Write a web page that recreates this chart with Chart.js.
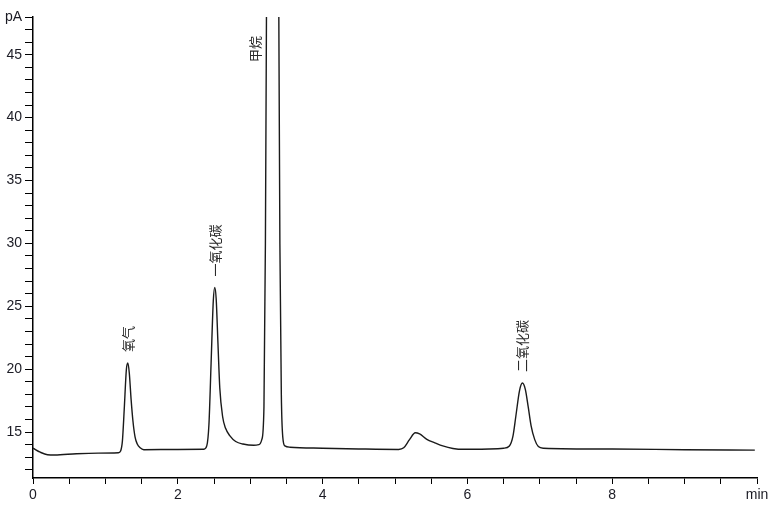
<!DOCTYPE html>
<html>
<head>
<meta charset="utf-8">
<script src="https://cdn.jsdelivr.net/npm/chart.js@4.4.1/dist/chart.umd.min.js"></script>
<style>
  html, body { margin: 0; padding: 0; background: #fff; }
  #wrap { width: 776px; height: 512px; }
</style>
</head>
<body>
<div id="wrap"><canvas id="myChart" width="776" height="512"></canvas></div>
<script>
// retention time (min) and detector signal (pA)
const times = [
  0, 0.1, 0.2, 0.3, 0.6, 0.9, 1.18,
  1.21, 1.235, 1.26, 1.29, 1.31, 1.33, 1.355, 1.38, 1.41, 1.44, 1.48, 1.53,
  2.0, 2.36,
  2.4, 2.43, 2.46, 2.49, 2.51, 2.53, 2.555, 2.58, 2.62, 2.66, 2.72, 2.8, 2.9, 3.05, 3.12,
  3.16, 3.19, 3.21, 3.23, 3.27, 3.31, 3.35, 3.39, 3.41, 3.43, 3.45, 3.48, 3.55,
  4.0, 4.5, 5.05,
  5.12, 5.2, 5.28, 5.34, 5.44, 5.55, 5.66, 5.8, 5.95,
  6.3, 6.5, 6.58, 6.63, 6.67, 6.72, 6.76, 6.8, 6.84, 6.88, 6.93, 6.98, 7.05,
  8.0, 9.0, 9.97
];
const signal = [
  13.72, 13.4, 13.2, 13.18, 13.28, 13.33, 13.36,
  13.5, 14.3, 16.8, 20.0, 20.5, 19.7, 17.6, 15.9, 14.6, 14.05, 13.75, 13.6,
  13.62, 13.64,
  13.9, 15.6, 20.5, 25.4, 26.5, 25.6, 22.0, 18.5, 16.2, 15.3, 14.7, 14.25, 14.05, 13.95, 14.0,
  14.4, 17, 30, 55, 95, 110, 95, 55, 30, 18, 14.6, 13.9, 13.8,
  13.72, 13.66, 13.62,
  13.75, 14.4, 14.95, 14.85, 14.42, 14.15, 13.9, 13.7, 13.63,
  13.66, 13.72, 13.9, 14.7, 16.3, 18.3, 18.9, 18.4, 17.0, 15.5, 14.4, 13.85, 13.72,
  13.65, 13.6, 13.57
];

// peak annotations
const peakNames = ['氧气', '一氧化碳', '甲烷', '二氧化碳'];
const peakTimes = [1.31, 2.51, 3.31, 6.76];

const xTicks = [0, 0.5, 1, 1.5, 2, 2.5, 3, 3.5, 4, 4.5, 5, 5.5, 6, 6.5, 7, 7.5, 8, 8.5, 9, 9.5, 10];
const xLabels = { 0: '0', 2: '2', 4: '4', 6: '6', 8: '8', 10: 'min' };
const yTicks = [12, 13, 14, 15, 16, 17, 18, 19, 20, 21, 22, 23, 24, 25, 26, 27, 28, 29, 30,
  31, 32, 33, 34, 35, 36, 37, 38, 39, 40, 41, 42, 43, 44, 45, 46, 47, 48];
const yLabels = { 15: '15', 20: '20', 25: '25', 30: '30', 35: '35', 40: '40', 45: '45', 48: 'pA' };

const axisFont = { family: "'Liberation Sans Narrow', 'Liberation Sans', sans-serif", size: 14 };

const peakLabelPlugin = {
  id: 'peakLabels',
  afterDatasetsDraw(chart) {
    const ctx = chart.ctx;
    const xs = chart.scales.x, ys = chart.scales.y;
    const area = chart.chartArea;
    ctx.save();
    ctx.font = "13px 'Noto Sans CJK SC', sans-serif";
    ctx.fillStyle = '#2a2a2a';
    ctx.textAlign = 'left';
    ctx.textBaseline = 'middle';
    peakNames.forEach((name, i) => {
      let top = -Infinity;
      times.forEach((t, j) => {
        if (Math.abs(t - peakTimes[i]) < 0.1) top = Math.max(top, signal[j]);
      });
      let px = xs.getPixelForValue(peakTimes[i]);
      let py = ys.getPixelForValue(top) - 11;
      if (top > ys.max) {
        px -= 18;
        py = area.top + 45;
      }
      ctx.save();
      ctx.translate(px, py);
      ctx.rotate(-Math.PI / 2);
      ctx.fillText(name, 0, 0);
      ctx.restore();
    });
    ctx.restore();
  }
};

const ctx = document.getElementById('myChart');
const myChart = new Chart(ctx, {
  type: 'line',
  data: {
    datasets: [{
      data: times.map((t, i) => ({ x: t, y: signal[i] })),
      borderColor: '#1a1a1a',
      borderWidth: 1.4,
      pointRadius: 0,
      fill: false,
      cubicInterpolationMode: 'monotone'
    }]
  },
  options: {
    responsive: false,
    animation: false,
    layout: { padding: { top: 17, right: 19, left: 0, bottom: 0 } },
    plugins: {
      legend: { display: false },
      tooltip: { enabled: false }
    },
    scales: {
      x: {
        type: 'linear',
        min: 0,
        max: 10,
        afterBuildTicks: s => { s.ticks = xTicks.map(v => ({ value: v })); },
        afterFit: s => { s.height = 34; },
        grid: { drawOnChartArea: false, drawTicks: true, tickLength: 6, color: '#000', lineWidth: 1 },
        border: { display: true, color: '#000', width: 1.5 },
        ticks: {
          autoSkip: false,
          maxRotation: 0,
          padding: 3,
          color: '#1b1b24',
          font: axisFont,
          callback: v => xLabels[v] !== undefined ? xLabels[v] : ''
        }
      },
      y: {
        type: 'linear',
        min: 11.35,
        max: 48,
        afterBuildTicks: s => { s.ticks = yTicks.map(v => ({ value: v })); },
        afterFit: s => { s.width = 33; },
        grid: { drawOnChartArea: false, drawTicks: true, tickLength: 8, color: '#000', lineWidth: 1 },
        border: { display: true, color: '#000', width: 1.5 },
        ticks: {
          autoSkip: false,
          padding: 3,
          color: '#1b1b24',
          font: axisFont,
          callback: v => yLabels[v] !== undefined ? yLabels[v] : ''
        }
      }
    }
  },
  plugins: [peakLabelPlugin]
});
</script>
</body>
</html>
